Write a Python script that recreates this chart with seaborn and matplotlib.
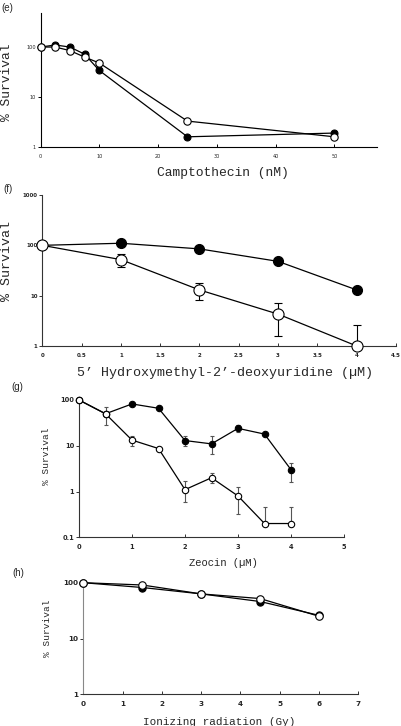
import matplotlib
matplotlib.use("Agg")
import matplotlib.pyplot as plt
import seaborn as sns
import numpy as np
from matplotlib.ticker import NullLocator

# (e) camptothecin
cpt_dose = [0, 2.5, 5, 7.5, 10, 25, 50]
cpt_filled = [100, 110, 100, 72, 34, 1.6, 1.9]
cpt_open = [100, 100, 85, 63, 48, 3.3, 1.6]

# (f) 5'-hydroxymethyl-2'-deoxyuridine
hmdu_dose = [0, 1, 2, 3, 4]
hmdu_filled = [100, 110, 85, 48, 13]
hmdu_open = [100, 52, 13, 4.3, 1.0]
hmdu_open_lo = [100, 37, 8.2, 1.6, 1.0]
hmdu_open_hi = [100, 68, 18, 7.1, 2.6]

# (g) zeocin
zeo_dose = [0, 0.5, 1, 1.5, 2, 2.5, 3, 3.5, 4]
zeo_filled = [100, 50, 82, 66, 13, 11, 24, 18, 3.0]
zeo_filled_lo = [100, 28, 82, 66, 9.8, 6.5, 20, 18, 1.6]
zeo_filled_hi = [100, 72, 82, 66, 16, 16, 28, 18, 4.3]
zeo_open = [100, 50, 13.3, 8.7, 1.1, 2.0, 0.8, 0.2, 0.2]
zeo_open_lo = [100, 50, 10, 8.7, 0.6, 1.55, 0.33, 0.2, 0.2]
zeo_open_hi = [100, 50, 16.6, 8.7, 1.7, 2.5, 1.27, 0.46, 0.46]

# (h) ionizing radiation
ir_dose = [0, 1.5, 3, 4.5, 6]
ir_filled = [100, 82, 63, 46, 26]
ir_open = [100, 91, 63, 52, 25]

sns.set_style("ticks")
plt.rcParams["font.family"] = ["DejaVu Sans"]

W, H = 401, 726
fig = plt.figure(figsize=(W / 100, H / 100), dpi=100)


def make_ax(left, right, top, bottom):
    return fig.add_axes([left / W, 1 - bottom / H, (right - left) / W, (bottom - top) / H])


def style_ax(ax, color, tick_size, bold, xticks, xticklabels, yticks, yticklabels):
    ax.set_yscale("log")
    ax.yaxis.set_minor_locator(NullLocator())
    ax.xaxis.set_minor_locator(NullLocator())
    ax.set_xticks(xticks, xticklabels)
    ax.set_yticks(yticks, yticklabels)
    for s in ["top", "right"]:
        ax.spines[s].set_visible(False)
    for s in ["left", "bottom"]:
        ax.spines[s].set_color(color)
        ax.spines[s].set_linewidth(0.8)
    ax.tick_params(axis="x", direction="in", length=2, width=0.7, color=color, pad=5,
                   labelsize=tick_size)
    ax.tick_params(axis="y", direction="out", length=2, width=0.7, color=color, pad=1.5,
                   labelsize=tick_size)
    for t in ax.get_xticklabels() + ax.get_yticklabels():
        t.set_fontweight("bold" if bold else "normal")
    ax.set_facecolor("white")


def series(ax, x, y, filled, ms, z):
    sns.lineplot(x=x, y=y, ax=ax, color="black", linewidth=0.9, marker="o",
                 markersize=ms, markerfacecolor="black" if filled else "white",
                 markeredgecolor="black", markeredgewidth=0.8, zorder=z, clip_on=False)


def errs(ax, x, y, lo, hi, color, cap):
    y = np.array(y)
    yerr = np.vstack([y - np.array(lo), np.array(hi) - y])
    ax.errorbar(x, y, yerr=yerr, fmt="none", ecolor=color, elinewidth=0.8,
                capsize=cap, capthick=0.8, zorder=2)


def labels(ax, xl, yl, xsize, ysize, xpos, ypos):
    ax.set_xlabel(xl, family="Liberation Mono", fontsize=xsize, va="center", ha="center")
    ax.set_ylabel(yl, family="Liberation Mono", fontsize=ysize, va="center", ha="center")
    ax.xaxis.set_label_coords(*xpos)
    ax.yaxis.set_label_coords(*ypos)


# (e)
ax = make_ax(40.5, 376.7, 13, 147)
series(ax, cpt_dose, cpt_filled, True, 5.0, 3)
series(ax, cpt_dose, cpt_open, False, 5.3, 4)
ax.set_xlim(0, 57.2)
ax.set_ylim(1, 480)
style_ax(ax, "black", 3.6, False, [0, 10, 20, 30, 40, 50], ["0", "10", "20", "30", "40", "50"],
         [1, 10, 100], ["1", "10", "100"])
labels(ax, "Camptothecin (nM)", "% Survival", 9.4, 9.4,
       ((222.5 - 40.5) / 336.2, (147 - 173) / 134), ((7 - 40.5) / 336.2, (147 - 82) / 134))
fig.text(7 / W, 1 - 8 / H, "(e)", family="Liberation Sans", fontsize=7, ha="center", va="center")

# (f)
ax = make_ax(42.3, 396, 195, 346)
errs(ax, hmdu_dose, hmdu_open, hmdu_open_lo, hmdu_open_hi, "black", 2.6)
series(ax, hmdu_dose, hmdu_filled, True, 7.2, 3)
series(ax, hmdu_dose, hmdu_open, False, 8.0, 4)
ax.set_xlim(0, 4.5)
ax.set_ylim(1, 1000)
style_ax(ax, "#333333", 4.0, True, [0, 0.5, 1, 1.5, 2, 2.5, 3, 3.5, 4, 4.5],
         ["0", "0.5", "1", "1.5", "2", "2.5", "3", "3.5", "4", "4.5"],
         [1, 10, 100, 1000], ["1", "10", "100", "1000"])
labels(ax, "5\u2019 Hydroxymethyl-2\u2019-deoxyuridine (\u00b5M)", "% Survival", 9.6, 9.6,
       ((225 - 42.3) / 353.7, (346 - 373) / 151), ((7 - 42.3) / 353.7, (346 - 261) / 151))
fig.text(8 / W, 1 - 188.5 / H, "(f)", family="Liberation Sans", fontsize=7, ha="center", va="center")

# (g)
ax = make_ax(79, 344, 400, 537.3)
errs(ax, zeo_dose, zeo_filled, zeo_filled_lo, zeo_filled_hi, "#555555", 1.6)
errs(ax, zeo_dose, zeo_open, zeo_open_lo, zeo_open_hi, "#555555", 1.6)
series(ax, zeo_dose, zeo_filled, True, 4.6, 3)
series(ax, zeo_dose, zeo_open, False, 4.6, 4)
ax.set_xlim(0, 5)
ax.set_ylim(0.1, 100)
style_ax(ax, "#333333", 4.8, True, [0, 1, 2, 3, 4, 5], ["0", "1", "2", "3", "4", "5"],
         [0.1, 1, 10, 100], ["0.1", "1", "10", "100"])
labels(ax, "Zeocin (\u00b5M)", "% Survival", 7.6, 6.8,
       ((223 - 79) / 265, (537.3 - 563) / 137.3), ((47 - 79) / 265, (537.3 - 456) / 137.3))
fig.text(17 / W, 1 - 387.5 / H, "(g)", family="Liberation Sans", fontsize=7, ha="center", va="center")

# (h)
ax = make_ax(83.3, 358.3, 582.7, 694.3)
series(ax, ir_dose, ir_filled, True, 5.2, 3)
series(ax, ir_dose, ir_open, False, 5.4, 4)
ax.set_xlim(0, 7)
ax.set_ylim(1, 100)
style_ax(ax, "#333333", 5.2, True, [0, 1, 2, 3, 4, 5, 6, 7], ["0", "1", "2", "3", "4", "5", "6", "7"],
         [1, 10, 100], ["1", "10", "100"])
ax.spines["left"].set_color("#888888")
labels(ax, "Ionizing radiation (Gy)", "% Survival", 7.9, 6.8,
       ((219 - 83.3) / 275, (694.3 - 722) / 111.6), ((48 - 83.3) / 275, (694.3 - 628) / 111.6))
fig.text(18 / W, 1 - 573 / H, "(h)", family="Liberation Sans", fontsize=7, ha="center", va="center")

fig.savefig("out.png", dpi=100, facecolor="white")
